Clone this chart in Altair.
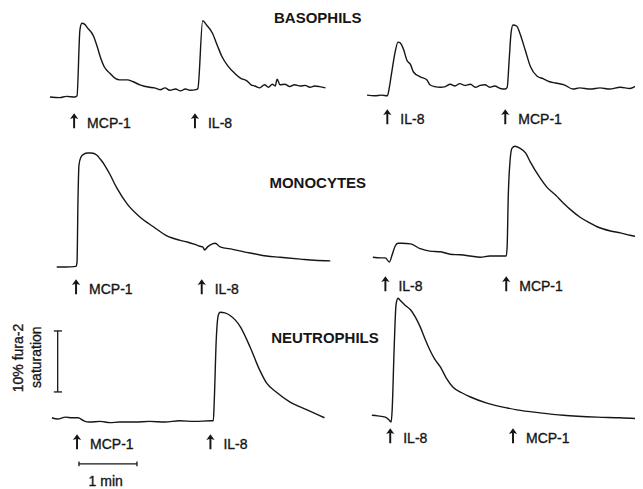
import altair as alt
import pandas as pd

# ---- layout of the six panels (time offset in s, baseline level in %) ----
COL_ORIGIN_S = [0, 326]
ROW_BASE_PCT = [62.95, 35.08, 9.67]

# ---- traces: time (s from panel start) and fura-2 saturation change (%) ----
BASO_L_T = [0, 10, 17, 26, 28, 31, 33, 36, 39, 45, 49, 52, 56, 62, 68, 72, 80, 86, 93, 103, 108, 114, 119, 124, 130,
            135, 140, 145, 151, 153, 158, 162, 168, 173, 178, 184, 191, 197, 204, 208, 212, 217, 222, 226, 230, 233,
            235, 238, 243, 248, 253, 259, 264, 269, 274, 279, 285]
BASO_L_V = [0.0, -0.1, 0.1, 0.0, 0.2, 11.0, 12.1, 11.9, 11.3, 10.0, 8.2, 6.6, 5.0, 3.9, 3.0, 2.8, 2.8, 2.5, 2.0, 1.6,
            1.5, 1.2, 1.5, 1.1, 1.3, 1.0, 1.3, 1.1, 1.2, 1.4, 12.5, 11.8, 10.5, 8.5, 6.6, 5.1, 3.9, 3.1, 2.6, 2.0, 1.8,
            1.5, 2.0, 1.6, 2.1, 1.8, 2.9, 2.0, 2.1, 1.7, 2.0, 1.8, 1.9, 1.6, 1.8, 1.7, 1.5]

BASO_R_T = [2, 10, 17, 23, 25, 27, 29, 31, 34, 36, 40, 43, 47, 50, 57, 64, 67, 72, 78, 83, 88, 93, 98, 103, 109, 114,
            119, 124, 129, 134, 140, 145, 147, 149, 151, 153, 157, 160, 166, 171, 178, 184, 191, 197, 206, 215, 222,
            233, 243, 253, 264, 274, 284, 288]
BASO_R_V = [0.3, 0.2, 0.3, 0.2, 1.5, 3.5, 5.5, 7.3, 9.0, 8.9, 7.7, 6.1, 5.3, 4.1, 3.3, 2.8, 2.0, 1.7, 1.6, 1.7, 2.1,
            1.8, 2.2, 1.9, 2.1, 1.6, 1.9, 2.0, 1.6, 1.8, 1.4, 1.3, 1.6, 6.0, 10.5, 11.8, 11.6, 10.5, 7.5, 5.0, 3.4,
            3.0, 2.5, 2.3, 2.0, 1.3, 1.5, 1.3, 1.5, 1.3, 1.6, 1.4, 2.0, 2.0]

MONO_L_T = [7, 16, 27, 28, 29, 30, 32, 35, 39, 43, 48, 52, 57, 62, 69, 80, 93, 107, 121, 134, 142, 150, 155, 158, 160,
            163, 168, 171, 176, 189, 207, 224, 238, 259, 274, 290]
MONO_L_V = [0.0, 0.0, 0.1, 0.8, 11.0, 16.7, 18.0, 18.5, 18.7, 18.7, 18.4, 17.7, 16.6, 15.2, 13.0, 10.3, 8.2, 6.6, 5.1,
            4.4, 4.1, 3.7, 3.4, 3.3, 2.8, 3.3, 3.8, 3.9, 3.3, 2.9, 2.3, 1.8, 1.6, 1.3, 1.1, 1.0]

MONO_R_T = [8, 16, 21, 25, 28, 31, 34, 38, 47, 57, 67, 78, 88, 98, 109, 119, 129, 140, 146, 147, 148, 150, 152, 155,
            160, 166, 171, 181, 188, 197, 205, 214, 222, 233, 240, 254, 264, 274, 288]
MONO_R_V = [1.6, 1.5, 1.5, 0.8, 2.0, 3.4, 3.9, 3.9, 3.8, 3.0, 2.6, 2.5, 2.1, 2.0, 1.8, 1.6, 1.8, 1.8, 1.8, 3.6, 11.0,
            17.5, 19.5, 19.8, 19.5, 18.7, 17.2, 14.6, 13.1, 11.8, 10.5, 9.2, 8.2, 7.2, 6.6, 5.9, 5.6, 5.2, 4.8]

NEUT_L_T = [2, 8, 16, 23, 29, 35, 41, 52, 62, 72, 88, 103, 119, 134, 150, 166, 169, 170, 172, 174, 176, 181, 186, 197,
            207, 217, 224, 235, 248, 266, 284]
NEUT_L_V = [0.7, 0.5, 0.8, 0.7, 0.7, 0.2, 0.0, 0.1, -0.1, 0.0, 0.0, 0.1, 0.0, 0.2, 0.1, 0.2, 0.2, 3.6, 13.4, 17.4,
            18.0, 17.9, 17.5, 15.6, 12.3, 8.5, 6.4, 4.8, 3.3, 2.0, 0.7]

NEUT_R_T = [7, 13, 21, 25, 27, 28, 30, 32, 34, 36, 41, 47, 52, 57, 62, 67, 72, 78, 84, 91, 100, 109, 126, 147, 157,
            181, 205, 240, 264, 288]
NEUT_R_V = [1.1, 1.0, 0.8, 0.3, 0.0, 2.0, 11.8, 19.2, 20.3, 20.0, 19.2, 18.4, 17.2, 15.6, 13.6, 11.8, 10.3, 9.0, 7.2,
            5.7, 4.8, 4.1, 3.1, 2.3, 2.0, 1.5, 1.1, 0.8, 0.7, 0.5]

# ---- stimulus additions (s) and labels, per panel ----
EVENTS = [
    # row, col, times, labels, label level (% rel. baseline)
    (0, 0, [25, 150], ["MCP-1", "IL-8"], -5.08),
    (0, 1, [23, 145], ["IL-8", "MCP-1"], -4.43),
    (1, 0, [27, 157], ["MCP-1", "IL-8"], -4.43),
    (1, 1, [21, 146], ["IL-8", "MCP-1"], -3.93),
    (2, 0, [28, 166], ["MCP-1", "IL-8"], -4.43),
    (2, 1, [26, 153], ["IL-8", "MCP-1"], -3.44),
]

TITLES = ["BASOPHILS", "MONOCYTES", "NEUTROPHILS"]
TITLE_X = [277, 277, 284.5]
TITLE_Y = [75.9, 48.85, 23.44]

traces = [
    ("BASO_L", 0, 0, BASO_L_T, BASO_L_V), ("BASO_R", 0, 1, BASO_R_T, BASO_R_V),
    ("MONO_L", 1, 0, MONO_L_T, MONO_L_V), ("MONO_R", 1, 1, MONO_R_T, MONO_R_V),
    ("NEUT_L", 2, 0, NEUT_L_T, NEUT_L_V), ("NEUT_R", 2, 1, NEUT_R_T, NEUT_R_V),
]
rows = []
for name, r, c, T, V in traces:
    for i, (t, v) in enumerate(zip(T, V)):
        rows.append({"trace": name, "i": i, "x": COL_ORIGIN_S[c] + t, "y": ROW_BASE_PCT[r] + v})
df_tr = pd.DataFrame(rows)

ev = []
for r, c, times, labels, lev in EVENTS:
    for t, lab in zip(times, labels):
        yb = ROW_BASE_PCT[r] + lev
        ev.append({"x": COL_ORIGIN_S[c] + t, "ytext": yb, "yarrow": yb + 1.2, "label": lab})
df_ev = pd.DataFrame(ev)

df_title = pd.DataFrame({"x": TITLE_X, "y": TITLE_Y, "label": TITLES})

# scale bars: 10 % saturation (vertical) and 1 min (horizontal)
BAR_X = [8, 4, 4, 30, 30, 90]
BAR_X2 = [8, 12.5, 12.5, 90, 30, 90]
BAR_Y = [14.6, 14.6, 24.6, 2.8, 2.4, 2.4]
BAR_Y2 = [24.6, 14.6, 24.6, 2.8, 3.2, 3.2]
df_bar = pd.DataFrame({"x": BAR_X, "x2": BAR_X2, "y": BAR_Y, "y2": BAR_Y2})

df_vlab = pd.DataFrame({"x": [-32.1, -13.4], "y": [20.16, 20.3], "label": ["10% fura-2", "saturation"]})
df_min = pd.DataFrame({"x": [57.7], "y": [-0.1], "label": ["1 min"]})

xs = alt.Scale(domain=[-43.4, 605.2], nice=False, zero=False)
ys = alt.Scale(domain=[-1.31, 77.54], nice=False, zero=False)
X = lambda f: alt.X(f, type="quantitative", scale=xs, axis=None)
Y = lambda f: alt.Y(f, type="quantitative", scale=ys, axis=None)

INK = "#161616"
FONT = "Liberation Sans"
ARROW = "M0,-1L0.55,-0.22L0.13,-0.36L0.13,1L-0.13,1L-0.13,-0.36L-0.55,-0.22Z"

lines = alt.Chart(df_tr).mark_line(color=INK, strokeWidth=1.4, clip=True, interpolate="monotone").encode(
    x=X("x"), y=Y("y"), detail="trace:N", order="i:Q")

arrows = alt.Chart(df_ev).mark_point(shape=ARROW, size=225, filled=True, color=INK, opacity=1,
                                     strokeWidth=0).encode(x=X("x"), y=Y("yarrow"))
ev_text = alt.Chart(df_ev).mark_text(align="left", baseline="alphabetic", dx=13, fontSize=14, font=FONT,
                                     color=INK, stroke=INK, strokeWidth=0.35).encode(
    x=X("x"), y=Y("ytext"), text="label:N")
titles = alt.Chart(df_title).mark_text(align="center", baseline="middle", fontSize=15, fontWeight="bold",
                                       font=FONT, color=INK).encode(x=X("x"), y=Y("y"), text="label:N")
bars = alt.Chart(df_bar).mark_rule(color=INK, strokeWidth=1.3).encode(
    x=X("x"), x2="x2", y=Y("y"), y2="y2")
vlab = alt.Chart(df_vlab).mark_text(angle=270, align="center", baseline="middle", fontSize=14, font=FONT,
                                    color=INK, stroke=INK, strokeWidth=0.35).encode(
    x=X("x"), y=Y("y"), text="label:N")
minlab = alt.Chart(df_min).mark_text(align="center", baseline="middle", fontSize=14, font=FONT,
                                     color=INK, stroke=INK, strokeWidth=0.35).encode(
    x=X("x"), y=Y("y"), text="label:N")

chart = alt.layer(lines, bars, arrows, ev_text, titles, vlab, minlab).properties(
    width=627, height=481, padding=0, background="white",
    autosize=alt.AutoSizeParams(type="none"),
).configure_view(stroke=None)

chart.save("out.html", embed_options={"renderer": "svg", "actions": False})
